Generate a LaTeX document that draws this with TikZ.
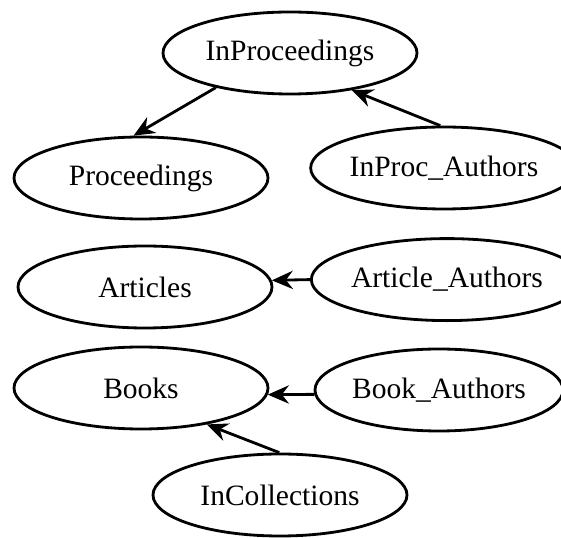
\documentclass[tikz,border=0pt]{standalone}
\usepackage{fontspec}
\setmainfont{Liberation Serif}
\usetikzlibrary{arrows.meta,shapes.geometric}

\begin{document}
\begin{tikzpicture}[table/.style={ellipse,draw,line width=2pt,minimum width=6.35cm,minimum height=2.05cm,inner sep=0pt,font=\fontsize{21}{25}\selectfont},
  link/.style={line width=2pt,-{Stealth[length=15pt,width=13pt,inset=5pt]}}]
\useasboundingbox (0,0) rectangle (14.025,13.45);
\node [table] (inproc) at (7.25,12.125) {InProceedings};
\node [table] (proc) at (3.525,9.0) {Proceedings};
\node [table,minimum width=6.6cm] (inprocauth) at (11.1,9.25) {InProc\_Authors};
\node [table] (art) at (3.625,6.275) {Articles};
\node [table,minimum width=6.45cm] (artauth) at (11.175,6.46) {Article\_Authors};
\node [table] (book) at (3.525,3.75) {Books};
\node [table,minimum width=6.2cm] (bookauth) at (10.975,3.7) {Book\_Authors};
\node [table] (incoll) at (7.0,1.075) {InCollections};
  \draw [link] (inproc.205) -- (proc.100);
  \draw [link] (inprocauth.95) -- (inproc.329);
  \draw [link] (artauth.180.5) -- (art.3);
  \draw [link] (bookauth.182) -- (book.357);
  \draw [link] (incoll.91) -- (book.331);
\end{tikzpicture}
\end{document}
